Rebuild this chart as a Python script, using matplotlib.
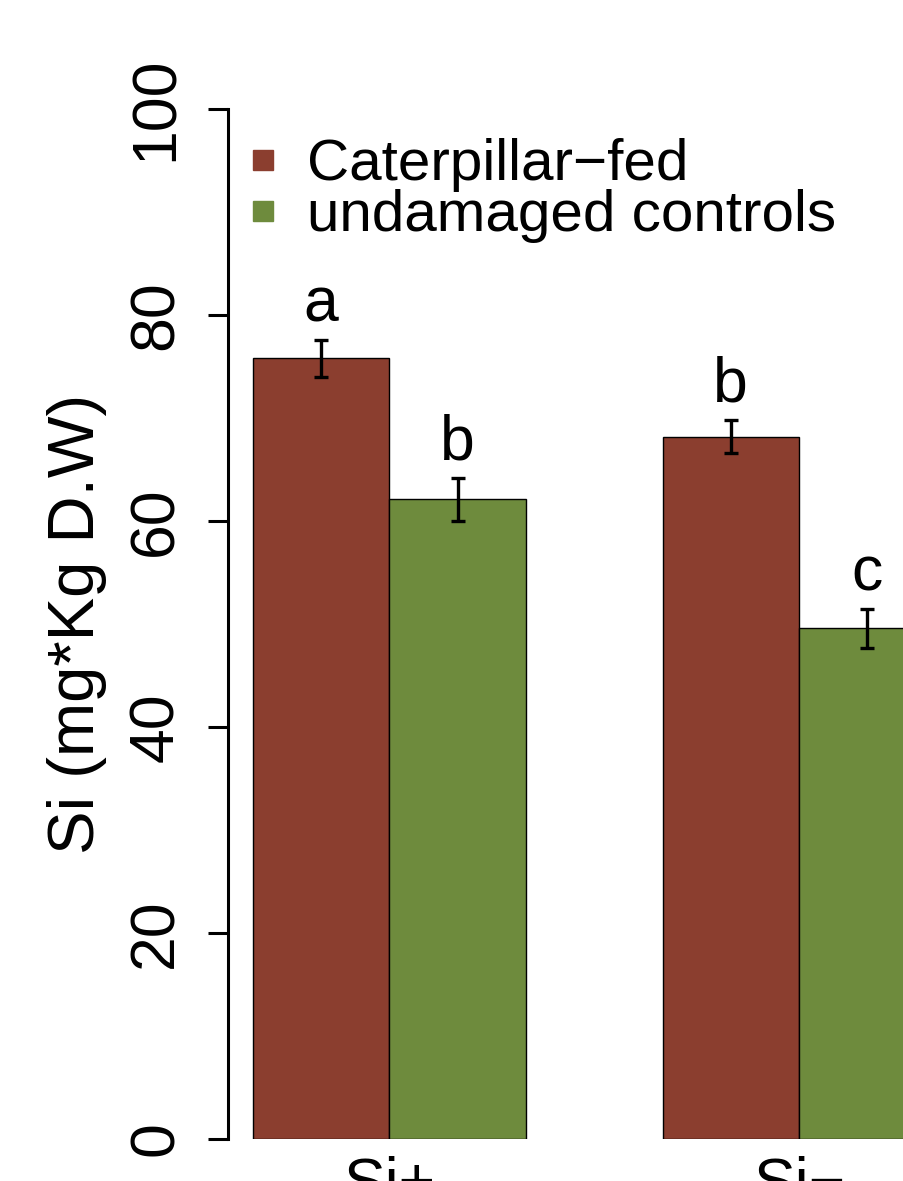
import matplotlib.pyplot as plt
from matplotlib.lines import Line2D

plt.rcParams['font.family'] = ['Liberation Sans', 'DejaVu Sans']

groups = ['Si+', 'Si\u2212']
series = ['Caterpillar\u2212fed', 'undamaged controls']
colors = ['#8B3E2F', '#6E8B3D']
means = [[75.8, 68.2],   # caterpillar-fed
         [62.1, 49.6]]   # undamaged controls
errs = [[1.8, 1.6],
        [2.1, 1.9]]
letters = [['a', 'b'],
           ['b', 'c']]

fig = plt.figure(figsize=(9.04, 11.81), dpi=100)
ax = fig.add_axes([228 / 904, 42 / 1181, 676 / 904, 1030 / 1181])

fs = 45
for j, name in enumerate(series):
    xs = [i * 3 + 1.5 + j for i in range(len(groups))]
    ax.bar(xs, means[j], width=1, color=colors[j], edgecolor='black',
           linewidth=1.0, label=name)
    ax.errorbar(xs, means[j], yerr=errs[j], fmt='none', ecolor='black',
                elinewidth=2.4, capsize=5, capthick=2.4)
    for x, m, e, t in zip(xs, means[j], errs[j], letters[j]):
        ax.text(x, m + e + 1.8, t, ha='center', va='baseline', fontsize=fs)

ax.set_xlim(0.817, 5.769)
ax.set_ylim(0, 100)
ax.set_xticks([i * 3 + 2 for i in range(len(groups))])
ax.set_xticklabels(groups, fontsize=fs)
ax.tick_params(axis='x', length=0, pad=12)
ax.set_yticks([0, 20, 40, 60, 80, 100])
ax.set_yticklabels(['0', '20', '40', '60', '80', '100'], rotation=90,
                   va='center', fontsize=fs)
ax.tick_params(axis='y', length=14.4, width=2.2, pad=16)
for s in ['top', 'right', 'bottom']:
    ax.spines[s].set_visible(False)
ax.spines['left'].set_linewidth(2.2)
ax.spines['left'].set_bounds(0, 100)
ax.set_ylabel('Si (mg*Kg D.W)', fontsize=47, labelpad=14)

handles = [Line2D([], [], marker='s', linestyle='none', markersize=14,
                  markerfacecolor=c, markeredgecolor=c) for c in colors]
ax.legend(handles, series, loc='upper left', bbox_to_anchor=(246 / 904, 1 - 138 / 1181),
          bbox_transform=fig.transFigure, frameon=False, fontsize=42,
          handlelength=0.6, handletextpad=0.45, labelspacing=-0.05,
          borderpad=0, borderaxespad=0)

fig.savefig('out.png', dpi=100)
